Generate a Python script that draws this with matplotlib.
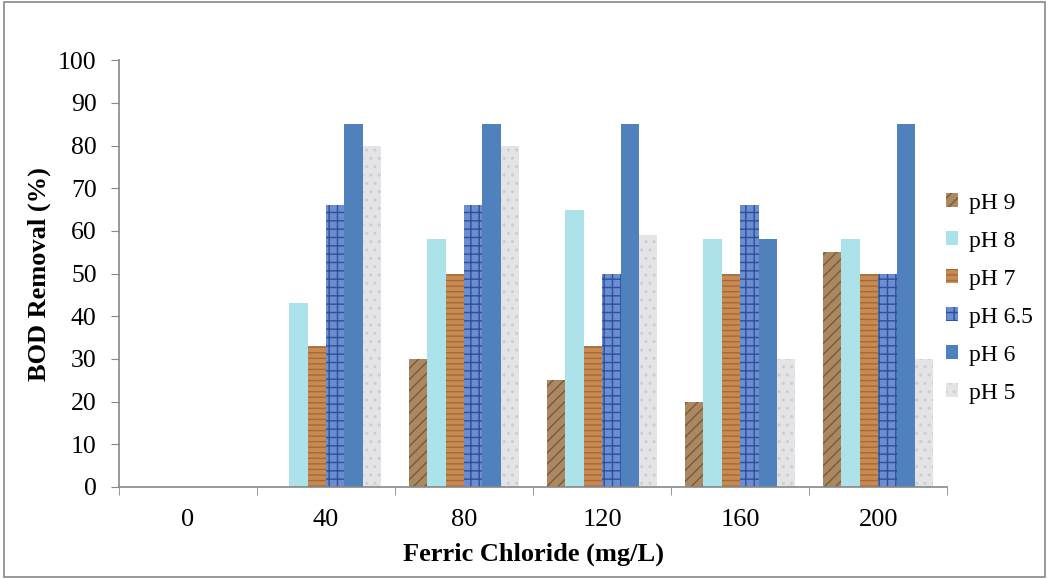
import numpy as np
import matplotlib.pyplot as plt
from matplotlib.patches import Rectangle

plt.rcParams['font.family'] = ['Liberation Serif', 'DejaVu Serif']

categories = ["0", "40", "80", "120", "160", "200"]
series = ["pH 9", "pH 8", "pH 7", "pH 6.5", "pH 6", "pH 5"]
ph9 = [0, 0, 30, 25, 20, 55]
ph8 = [0, 43, 58, 65, 58, 58]
ph7 = [0, 33, 50, 33, 50, 50]
ph65 = [0, 66, 66, 50, 66, 50]
ph6 = [0, 85, 85, 85, 58, 85]
ph5 = [0, 80, 80, 59, 30, 30]
values = [ph9, ph8, ph7, ph65, ph6, ph5]

colors = ["#a98862", "#ace3ea", "#c98a52", "#6a8ed0", "#4f81bd", "#e4e4e6"]
edges = ["#7a5a38", "#8fd2dc", "#a06a3a", "#2f4f9a", "#4f81bd", "#cdcdd2"]
hatches = ["///", "", "---", "++", "", ".."]

fig = plt.figure(figsize=(10.49, 5.79), dpi=100)
ax = fig.add_axes([0.1134, 0.159, 0.7896, 0.737])

x = np.arange(len(categories))
w = 0.8 / 6
for i, vals in enumerate(values):
    ax.bar(x - 0.4 + w * (i + 0.5), vals, width=w, color=colors[i],
           edgecolor=edges[i], hatch=hatches[i], linewidth=0, label=series[i])

ax.set_xlim(-0.5, len(categories) - 0.5)
ax.set_ylim(0, 100)
ax.set_yticks(np.arange(0, 101, 10))
ax.set_xticks(x)
ax.set_xticklabels(categories)
ax.set_xticks(np.arange(-0.5, len(categories)), minor=True)
ax.tick_params(axis='x', which='major', length=0, pad=16, labelsize=19)
ax.tick_params(axis='x', which='minor', length=6, color='#878787', direction='out')
ax.tick_params(axis='y', length=6, color='#878787', labelsize=18.5, pad=10)

for s in ['top', 'right']:
    ax.spines[s].set_visible(False)
for s in ['left', 'bottom']:
    ax.spines[s].set_color('#878787')
    ax.spines[s].set_linewidth(1.2)

ax.set_xlabel("Ferric Chloride (mg/L)", fontsize=19, fontweight='bold', labelpad=8)
ax.set_ylabel("BOD Removal (%)", fontsize=19, fontweight='bold', labelpad=5)

leg = ax.legend(loc='center left', bbox_to_anchor=(934 / 1049, 1 - 298 / 579),
                bbox_transform=fig.transFigure, frameon=False, borderpad=0,
                fontsize=17, handlelength=0.5, handleheight=0.5,
                labelspacing=0.72, handletextpad=0.5)

fig.patches.append(Rectangle((0.004, 0.004), 0.992, 0.992, transform=fig.transFigure,
                             fill=False, edgecolor='#878787', linewidth=1.2))

fig.savefig("out.png", dpi=100)
